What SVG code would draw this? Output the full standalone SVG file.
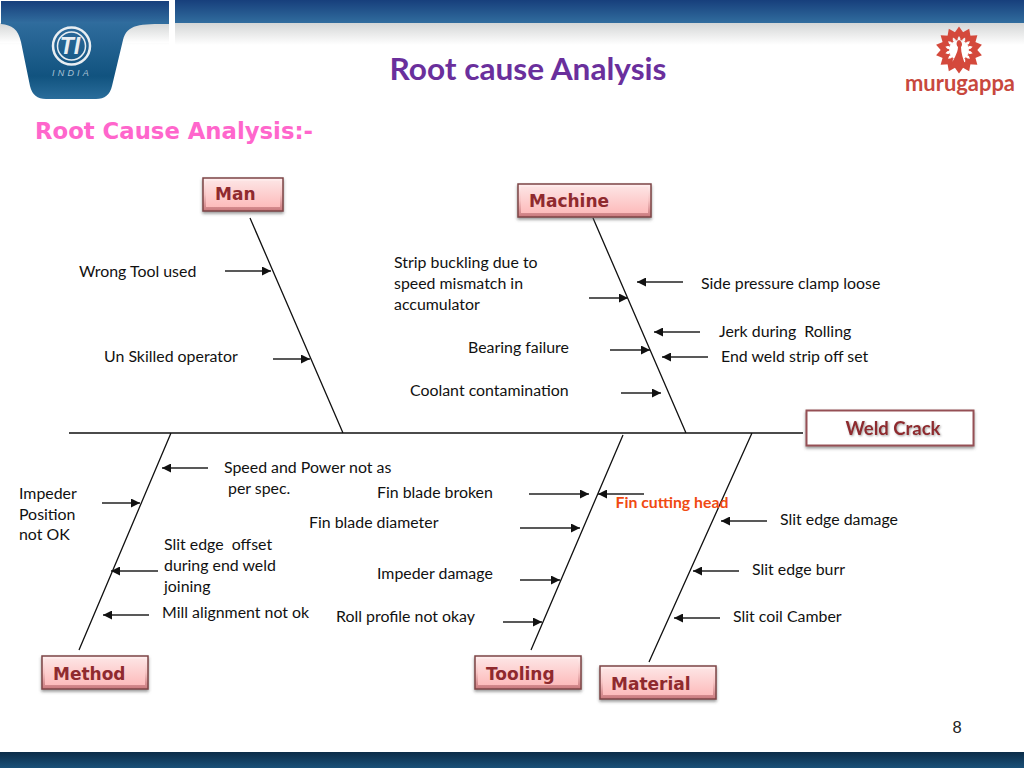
<svg xmlns="http://www.w3.org/2000/svg" width="1024" height="768" viewBox="0 0 1024 768">
<style>
.t{font-family:"Lato","Open Sans","Liberation Sans",sans-serif;font-size:15.9px;fill:#111;white-space:pre}
.l{font-family:"DejaVu Sans","Liberation Sans",sans-serif;font-weight:700;font-size:17px;fill:#8f2a2e}
.box{fill:url(#bevel);stroke:#7d4446;stroke-width:1.5;filter:url(#sh)}
.in{fill:url(#pink)}
.bone{stroke:#111;stroke-width:1.3;fill:none}
.arr{stroke:#222;stroke-width:1.3;fill:none;marker-end:url(#ah)}
.petal{fill:#d4493c}
</style>
<defs>
<marker id="ah" viewBox="0 0 10 10" refX="10" refY="5" markerWidth="9" markerHeight="9" markerUnits="userSpaceOnUse" orient="auto"><path d="M0 0L10 5L0 10Z" fill="#111"/></marker>
<linearGradient id="top" x1="0" y1="0" x2="0" y2="1"><stop offset="0" stop-color="#173f7c"/><stop offset="1" stop-color="#316d9e"/></linearGradient>
<linearGradient id="fade" x1="0" y1="0" x2="0" y2="1"><stop offset="0" stop-color="#d4d6d6"/><stop offset="1" stop-color="#fff"/></linearGradient>
<linearGradient id="tab" x1="0" y1="0" x2="0" y2="1"><stop offset="0" stop-color="#2f6c9d"/><stop offset=".7" stop-color="#11537f"/><stop offset="1" stop-color="#2a6d9b"/></linearGradient>
<linearGradient id="bot" x1="0" y1="0" x2="0" y2="1"><stop offset="0" stop-color="#0b2c48"/><stop offset="1" stop-color="#1a5078"/></linearGradient>
<linearGradient id="pink" x1="0" y1="0" x2="0" y2="1"><stop offset="0" stop-color="#fde3e3"/><stop offset="1" stop-color="#fdbcbc"/></linearGradient>
<linearGradient id="bevel" x1="0" y1="0" x2="0" y2="1"><stop offset="0" stop-color="#fff0f0"/><stop offset=".5" stop-color="#f7c4c4"/><stop offset="1" stop-color="#c9787c"/></linearGradient>
<filter id="sh" x="-10%" y="-20%" width="120%" height="150%"><feDropShadow dx="0" dy="2" stdDeviation="1.5" flood-color="#555" flood-opacity=".6"/></filter>
<filter id="ts" x="-10%" y="-20%" width="120%" height="150%"><feDropShadow dx="1" dy="1" stdDeviation="1" flood-color="#777" flood-opacity=".7"/></filter>
<path id="p" class="petal" d="M0-23.500L5-16.500L3-9L0-14L-3-9L-5-16.500Z"/>
</defs>

<g id="header">
<rect x="0" y="23" width="1024" height="22" fill="url(#fade)"/>
<rect x="175" y="0" width="849" height="23" fill="url(#top)"/>
<rect x="1" y="1" width="168" height="22" fill="url(#top)"/>
<rect x="0" y="23" width="169" height="20" fill="url(#fade)"/>
<rect x="169" y="0" width="6" height="45" fill="#fff"/>
<path d="M1 23H169V24C140 24 127 24 123 40L112 86Q109 99 96 99H46Q33 99 30 86L21 42C18 29 12 25 1 24Z" fill="url(#tab)"/>
<circle cx="71.500" cy="46" r="18.500" fill="none" stroke="#e9eef2" stroke-width="2.500"/>
<circle cx="71.500" cy="46" r="14" fill="none" stroke="#e9eef2" stroke-width="1.500"/>
<text x="70" y="54" text-anchor="middle" font-family="Liberation Sans,sans-serif" font-size="23" font-style="italic" font-weight="700" fill="#e9eef2">TI</text>
<text x="72" y="76" text-anchor="middle" font-family="Liberation Sans,sans-serif" font-size="9" font-style="italic" letter-spacing="3.200" fill="#a9c3d6">INDIA</text>
<g id="logo" transform="translate(959 50)">
<use href="#p"/><use href="#p" transform="rotate(25.700)"/><use href="#p" transform="rotate(51.400)"/><use href="#p" transform="rotate(77.100)"/><use href="#p" transform="rotate(102.900)"/><use href="#p" transform="rotate(128.600)"/><use href="#p" transform="rotate(154.300)"/><use href="#p" transform="rotate(180)"/><use href="#p" transform="rotate(205.700)"/><use href="#p" transform="rotate(231.400)"/><use href="#p" transform="rotate(257.100)"/><use href="#p" transform="rotate(282.900)"/><use href="#p" transform="rotate(308.600)"/><use href="#p" transform="rotate(334.300)"/>
<path d="M0-10C-3-9-3-5-1-3C-1 3-6 10-9 17H7C4 9 2 3 2-3C4-5 3-9 0-10Z" fill="#d4493c"/>
</g>
<text x="905" y="91" font-family="Lato,Liberation Sans,sans-serif" font-weight="700" font-size="22" fill="#c8483d" textLength="110" lengthAdjust="spacingAndGlyphs">murugappa</text>
</g>

<text id="title" x="528" y="80" text-anchor="middle" font-family="Lato,Liberation Sans,sans-serif" font-weight="700" font-size="30" fill="#6a2f9c" textLength="277" lengthAdjust="spacingAndGlyphs">Root cause Analysis</text>
<text id="subtitle" x="35" y="139" font-family="DejaVu Sans,Liberation Sans,sans-serif" font-weight="700" font-size="23" fill="#ff66cc" textLength="278" lengthAdjust="spacingAndGlyphs">Root Cause Analysis:-</text>

<g id="connectors">
<path class="bone" d="M69 433H803M250 218L343 433M593 218L686 433M171 433L79 650M623 435L531 650M752 433L649 662"/>
<path class="arr" d="M225 271H271"/><path class="arr" d="M273 359H310"/>
<path class="arr" d="M589 298H628"/><path class="arr" d="M683 282H637"/>
<path class="arr" d="M700 332H654"/><path class="arr" d="M610 350H650"/>
<path class="arr" d="M708 357H662"/><path class="arr" d="M621 393H661"/>
<path class="arr" d="M208 468H162"/><path class="arr" d="M102 503H140"/>
<path class="arr" d="M158 571H111"/><path class="arr" d="M149 615H103"/>
<path class="arr" d="M529 494H589"/><path class="arr" d="M644 494H598"/>
<path class="arr" d="M520 528H580"/><path class="arr" d="M520 580H560"/>
<path class="arr" d="M503 622H542"/><path class="arr" d="M767 521H721"/>
<path class="arr" d="M739 571H693"/><path class="arr" d="M720 618H674"/>
</g>

<g id="man"><rect class="box" x="203" y="178" width="80" height="33"/><rect class="in" x="206" y="181" width="74" height="26"/><text class="l" x="215" y="200">Man</text></g>
<g id="machine"><rect class="box" x="518" y="184" width="133" height="33"/><rect class="in" x="521" y="187" width="127" height="26"/><text class="l" x="529" y="207">Machine</text></g>
<g id="method"><rect class="box" x="42" y="656" width="106" height="33"/><rect class="in" x="45" y="659" width="100" height="26"/><text class="l" x="53" y="680">Method</text></g>
<g id="tooling"><rect class="box" x="475" y="656" width="106" height="33"/><rect class="in" x="478" y="659" width="100" height="26"/><text class="l" x="486" y="680">Tooling</text></g>
<g id="material"><rect class="box" x="600" y="666" width="116" height="33"/><rect class="in" x="603" y="669" width="110" height="26"/><text class="l" x="611" y="690">Material</text></g>
<g id="weld-crack"><rect x="806.500" y="410.500" width="167" height="35" fill="#fff" stroke="#955055" stroke-width="2" filter="url(#sh)"/><text x="893" y="435" text-anchor="middle" font-family="Lato,Liberation Sans,sans-serif" font-weight="700" font-size="18.500" fill="#8f2a2e" filter="url(#ts)">Weld Crack</text></g>

<g id="labels">
<text class="t" x="79" y="277">Wrong Tool used</text>
<text class="t" x="104" y="362">Un Skilled operator</text>
<text class="t" x="394" y="268">Strip buckling due to</text>
<text class="t" x="394" y="289">speed mismatch in</text>
<text class="t" x="394" y="310">accumulator</text>
<text class="t" x="701" y="289">Side pressure clamp loose</text>
<text class="t" x="719" y="337">Jerk during  Rolling</text>
<text class="t" x="468" y="353">Bearing failure</text>
<text class="t" x="721" y="362">End weld strip off set</text>
<text class="t" x="410" y="396">Coolant contamination</text>
<text class="t" x="224" y="473">Speed and Power not as</text>
<text class="t" x="228" y="494">per spec.</text>
<text class="t" x="19" y="499">Impeder</text>
<text class="t" x="19" y="520">Position</text>
<text class="t" x="19" y="540">not OK</text>
<text class="t" x="377" y="498">Fin blade broken</text>
<text class="t" x="309" y="528">Fin blade diameter</text>
<text class="t" x="164" y="550">Slit edge  offset</text>
<text class="t" x="164" y="571">during end weld</text>
<text class="t" x="164" y="592">joining</text>
<text class="t" x="377" y="579">Impeder damage</text>
<text class="t" x="162" y="618">Mill alignment not ok</text>
<text class="t" x="336" y="622">Roll profile not okay</text>
<text x="615.500" y="508" font-family="Lato,Liberation Sans,sans-serif" font-weight="700" font-size="15.800" fill="#f04a12">Fin cutting head</text>
<text class="t" x="780" y="525">Slit edge damage</text>
<text class="t" x="752" y="575">Slit edge burr</text>
<text class="t" x="733" y="622">Slit coil Camber</text>
</g>

<text id="page" x="957" y="733" text-anchor="middle" font-family="Liberation Sans,sans-serif" font-size="16.500" fill="#222">8</text>
<rect id="footer" x="0" y="752" width="1024" height="16" fill="url(#bot)"/>
</svg>
